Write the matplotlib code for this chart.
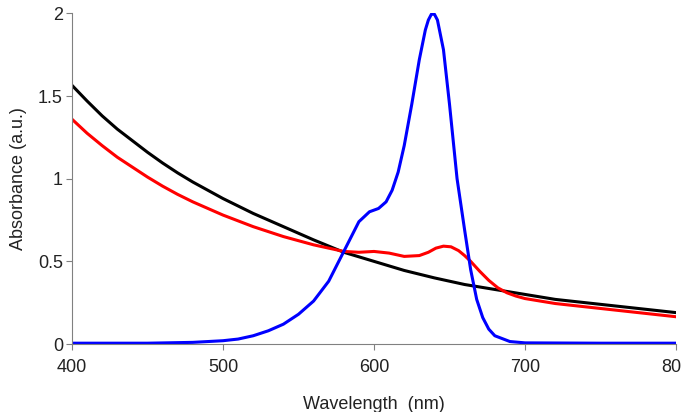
import matplotlib
matplotlib.use("Agg")
import matplotlib.pyplot as plt

plt.rcParams["font.family"] = ["Liberation Sans", "DejaVu Sans"]

# black curve
wl_black = [400, 410, 420, 430, 440, 450, 460, 470, 480, 490, 500, 520, 540,
            560, 580, 600, 620, 640, 660, 680, 700, 720, 740, 760, 780, 800]
abs_black = [1.565, 1.47, 1.38, 1.30, 1.23, 1.16, 1.095, 1.035, 0.98, 0.93,
             0.88, 0.79, 0.71, 0.63, 0.555, 0.50, 0.445, 0.40, 0.36, 0.33,
             0.30, 0.27, 0.25, 0.23, 0.21, 0.19]

# red curve
wl_red = [400, 410, 420, 430, 440, 450, 460, 470, 480, 490, 500, 520, 540,
          560, 580, 590, 600, 610, 620, 630, 636, 641, 646, 651, 656, 660,
          664, 670, 676, 682, 688, 694, 700, 710, 720, 740, 760, 780, 800]
abs_red = [1.36, 1.275, 1.20, 1.13, 1.07, 1.01, 0.955, 0.905, 0.86, 0.82,
           0.78, 0.71, 0.65, 0.60, 0.56, 0.555, 0.56, 0.55, 0.53, 0.535,
           0.555, 0.58, 0.592, 0.588, 0.565, 0.535, 0.50, 0.44, 0.385, 0.34,
           0.31, 0.29, 0.275, 0.26, 0.245, 0.225, 0.205, 0.185, 0.165]

# blue curve
wl_blue = [400, 450, 480, 500, 510, 520, 530, 540, 550, 560, 570, 580, 590,
           597, 603, 608, 612, 616, 620, 625, 630, 634, 636, 638, 640, 642,
           646, 650, 655, 660, 664, 668, 672, 676, 680, 690, 700, 750, 800]
abs_blue = [0.005, 0.005, 0.01, 0.02, 0.03, 0.05, 0.08, 0.12, 0.18, 0.26,
            0.38, 0.56, 0.74, 0.80, 0.82, 0.86, 0.93, 1.04, 1.20, 1.45, 1.72,
            1.90, 1.96, 1.995, 1.995, 1.96, 1.78, 1.45, 1.0, 0.69, 0.45, 0.27,
            0.16, 0.09, 0.05, 0.015, 0.007, 0.005, 0.005]

fig = plt.figure(figsize=(6.81, 4.12), dpi=100)
ax = fig.add_axes([0.1057, 0.165, 0.887, 0.8025])

ax.plot(wl_black, abs_black, color="black", lw=2.2)
ax.plot(wl_red, abs_red, color="#ff0000", lw=2.2)
ax.plot(wl_blue, abs_blue, color="#0000ff", lw=2.2, solid_joinstyle="round")

ax.set_xlim(400, 800)
ax.set_ylim(0, 2)
ax.set_xticks([400, 500, 600, 700, 800])
ax.set_yticks([0, 0.5, 1, 1.5, 2])
ax.set_yticklabels(["0", "0.5", "1", "1.5", "2"])

for s in ["top", "right"]:
    ax.spines[s].set_visible(False)
for s in ["left", "bottom"]:
    ax.spines[s].set_color("#808080")
ax.tick_params(colors="#808080", labelcolor="#222222", labelsize=13, length=4.5)
ax.tick_params(axis="x", pad=6)
ax.tick_params(axis="y", pad=2)

ax.set_xlabel("Wavelength  (nm)", fontsize=13, color="#222222", labelpad=15)
ax.set_ylabel("Absorbance (a.u.)", fontsize=13, color="#222222", labelpad=8)

fig.savefig("out.png", dpi=100)
